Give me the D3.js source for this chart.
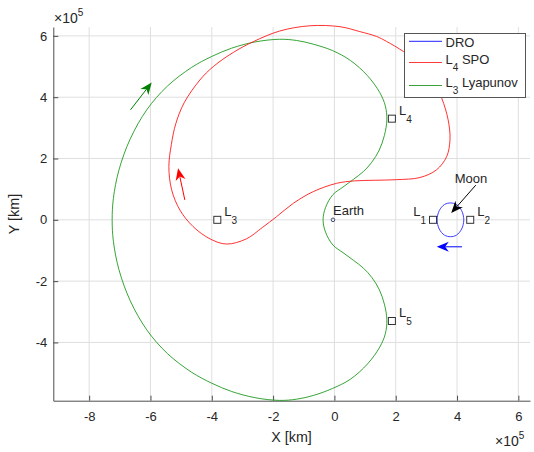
<!DOCTYPE html>
<html>
<head>
<meta charset="utf-8">
<script src="https://cdn.jsdelivr.net/npm/d3@7"></script>
<style>
  body { margin: 0; background: #fff; }
  text { font-family: "Liberation Sans", Arial, sans-serif; fill: #262626; }
</style>
</head>
<body>
<script>
// axis ticks (units of 1e5 km)
const xTicks = [-8, -6, -4, -2, 0, 2, 4, 6];
const yTicks = [-4, -2, 0, 2, 4, 6];

// orbits, [x, y] in 1e5 km
const droPts = [[4.22,0],[4.15,0.30],[3.98,0.50],[3.79,0.55],[3.59,0.50],[3.42,0.30],[3.35,0],
  [3.42,-0.30],[3.59,-0.50],[3.79,-0.55],[3.98,-0.50],[4.15,-0.30]];

const spoPts = [[-0.80,6.33],[0.18,6.30],[0.83,6.14],[1.38,5.98],[1.70,5.82],[2.25,5.49],[2.79,5.05],
  [3.21,4.56],[3.50,3.97],[3.71,3.26],[3.77,2.61],[3.66,2.06],[3.33,1.63],[2.79,1.38],[2.03,1.31],
  [1.30,1.29],[0.65,1.27],[0.07,1.19],[-0.69,0.92],[-1.34,0.54],[-1.89,0.10],[-2.35,-0.25],
  [-2.87,-0.62],[-3.52,-0.79],[-4.06,-0.62],[-4.61,-0.22],[-5.04,0.32],[-5.31,0.98],[-5.40,1.74],
  [-5.32,2.45],[-5.17,3.15],[-4.90,3.82],[-4.39,4.56],[-3.95,5.00],[-3.30,5.46],[-2.65,5.81],[-1.78,6.16]];

const lyapPts = [[-0.37,0],[-0.29,0.40],[-0.05,0.82],[0.28,1.07],[0.62,1.32],[0.95,1.58],[1.22,1.88],
  [1.46,2.27],[1.63,2.75],[1.71,3.26],[1.66,3.72],[1.48,4.15],[1.08,4.70],[0.52,5.20],
  [-0.06,5.52],[-0.69,5.73],[-1.23,5.85],[-1.80,5.89],[-2.60,5.80],[-3.35,5.60],[-4.00,5.33],
  [-4.66,4.97],[-5.45,4.36],[-6.12,3.59],[-6.66,2.64],[-7.03,1.62],[-7.21,0.70],[-7.25,0],
  [-7.21,-0.70],[-7.03,-1.62],[-6.66,-2.64],[-6.12,-3.59],[-5.45,-4.36],[-4.66,-4.97],[-4.00,-5.33],
  [-3.35,-5.60],[-2.60,-5.80],[-1.80,-5.89],[-1.23,-5.85],[-0.69,-5.73],[-0.06,-5.50],[0.52,-5.20],
  [1.08,-4.70],[1.48,-4.15],[1.66,-3.72],[1.71,-3.26],[1.63,-2.75],[1.46,-2.27],[1.22,-1.88],
  [0.95,-1.58],[0.62,-1.32],[0.28,-1.07],[-0.05,-0.82],[-0.29,-0.40]];

const libPoints = [
  {n: "1", x: 3.216, y: 0, side: "left"},
  {n: "2", x: 4.43, y: 0, side: "right"},
  {n: "3", x: -3.82, y: 0, side: "right"},
  {n: "4", x: 1.875, y: 3.30, side: "right"},
  {n: "5", x: 1.875, y: -3.30, side: "right"}
];
const earth = [-0.047, 0];

// direction arrows: [tailX, tailY, tipX, tipY, colour]
const arrows = [
  [-6.65, 3.59, -5.96, 4.48, "#008000"],
  [-4.88, 0.65, -5.10, 1.68, "#ff0000"],
  [4.16, -0.88, 3.34, -0.88, "#0000ff"]
];
const moonArrow = [4.61, 1.13, 3.81, 0.22];

const W = 534, H = 452;
const svg = d3.select("body").append("svg").attr("width", W).attr("height", H);

const x = d3.scaleLinear([-9.17, 6.38], [53.3, 530]);
const y = d3.scaleLinear([-5.9, 6.29], [400.7, 27]);

// grid
svg.append("g").selectAll("line").data(xTicks).join("line")
  .attr("x1", d => x(d)).attr("x2", d => x(d)).attr("y1", y(6.29)).attr("y2", y(-5.9))
  .attr("stroke", "#dfdfdf").attr("stroke-width", 1);
svg.append("g").selectAll("line").data(yTicks).join("line")
  .attr("y1", d => y(d)).attr("y2", d => y(d)).attr("x1", x(-9.17)).attr("x2", x(6.38))
  .attr("stroke", "#dfdfdf").attr("stroke-width", 1);

// axes
const xAxis = svg.append("g").attr("transform", `translate(0,${y(-5.9)})`)
  .call(d3.axisBottom(x).tickValues(xTicks).tickFormat(d => String(d))
    .tickSizeInner(-5).tickSizeOuter(0).tickPadding(11));
const yAxis = svg.append("g").attr("transform", `translate(${x(-9.17)},0)`)
  .call(d3.axisLeft(y).tickValues(yTicks).tickFormat(d => String(d))
    .tickSizeInner(-5).tickSizeOuter(0).tickPadding(6));
[xAxis, yAxis].forEach(a => {
  a.selectAll("path, line").attr("stroke", "#4d4d4d");
  a.selectAll("text").attr("font-size", 13).attr("fill", "#262626")
    .attr("font-family", "Liberation Sans, Arial, sans-serif");
});

svg.append("text").attr("x", 291.6).attr("y", 442).attr("text-anchor", "middle")
  .attr("font-size", 14.3).text("X [km]");
svg.append("text").attr("transform", "translate(19,214) rotate(-90)").attr("text-anchor", "middle")
  .attr("font-size", 14.3).text("Y [km]");

function expo(tx, ty) {
  const t = svg.append("text").attr("x", tx).attr("y", ty).attr("font-size", 14);
  t.append("tspan").text("\u00d710");
  t.append("tspan").attr("dy", -7).attr("font-size", 10).text("5");
}
expo(54, 23);
expo(495, 446);

// orbits
const line = d3.line().x(d => x(d[0])).y(d => y(d[1])).curve(d3.curveCatmullRomClosed);
svg.append("path").attr("d", line(lyapPts)).attr("fill", "none").attr("stroke", "#1f9a1f").attr("stroke-width", 0.9);
svg.append("path").attr("d", line(spoPts)).attr("fill", "none").attr("stroke", "#ff1a1a").attr("stroke-width", 0.9);
svg.append("path").attr("d", line(droPts)).attr("fill", "none").attr("stroke", "#2a2aff").attr("stroke-width", 0.9);

// arrows
function arrow(x0, y0, x1, y1, col, len, wid) {
  const px0 = x(x0), py0 = y(y0), px1 = x(x1), py1 = y(y1);
  const dx = px1 - px0, dy = py1 - py0, L = Math.hypot(dx, dy);
  const ux = dx / L, uy = dy / L, nx = -uy, ny = ux;
  const bx = px1 - ux * len, by = py1 - uy * len;
  const ix = px1 - ux * len * 0.7, iy = py1 - uy * len * 0.7;
  svg.append("line").attr("x1", px0).attr("y1", py0).attr("x2", ix).attr("y2", iy)
    .attr("stroke", col).attr("stroke-width", 1);
  svg.append("path").attr("fill", col).attr("stroke", "none")
    .attr("d", `M${px1},${py1}L${bx + nx * wid / 2},${by + ny * wid / 2}L${ix},${iy}L${bx - nx * wid / 2},${by - ny * wid / 2}Z`);
}
arrows.forEach(a => arrow(a[0], a[1], a[2], a[3], a[4], 12, 10));
arrow(moonArrow[0], moonArrow[1], moonArrow[2], moonArrow[3], "#000", 12, 10);

// markers
svg.append("circle").attr("cx", x(earth[0])).attr("cy", y(earth[1])).attr("r", 1.8)
  .attr("fill", "none").attr("stroke", "#3c4a70").attr("stroke-width", 1);
svg.append("text").attr("x", 333).attr("y", 214.5).attr("font-size", 13).text("Earth");
svg.append("text").attr("x", 471).attr("y", 182.5).attr("text-anchor", "middle").attr("font-size", 13).text("Moon");

libPoints.forEach(p => {
  const cx = x(p.x), cy = y(p.y);
  svg.append("rect").attr("x", cx - 3.5).attr("y", cy - 3.5).attr("width", 7).attr("height", 7)
    .attr("fill", "#fff").attr("stroke", "#333").attr("stroke-width", 1);
  const t = svg.append("text").attr("font-size", 13).attr("y", cy - 3.5);
  if (p.side === "left") t.attr("x", cx - 7).attr("text-anchor", "end");
  else t.attr("x", cx + 7);
  t.append("tspan").text("L");
  t.append("tspan").attr("dy", 8).attr("font-size", 10).text(p.n);
});

// legend
const lg = svg.append("g");
lg.append("rect").attr("x", 404.5).attr("y", 33.5).attr("width", 121).attr("height", 64)
  .attr("fill", "#fff").attr("stroke", "#555").attr("stroke-width", 1);
const entries = [
  {c: "#4d4dff", ly: 41.3, ty: 46.5, main: "DRO"},
  {c: "#ff3a3a", ly: 62.5, ty: 64.3, main: "L", sub: "4", rest: " SPO"},
  {c: "#3aa03a", ly: 85.5, ty: 87.3, main: "L", sub: "3", rest: " Lyapunov"}
];
entries.forEach(e => {
  lg.append("path").attr("d", `M409,${e.ly}H442`).attr("fill", "none")
    .attr("stroke", e.c).attr("stroke-width", 1.2);
  const t = lg.append("text").attr("x", 445.5).attr("y", e.ty).attr("font-size", 13);
  t.append("tspan").text(e.main);
  if (e.sub) {
    t.append("tspan").attr("dy", 7).attr("font-size", 10).text(e.sub);
    t.append("tspan").attr("dy", -7).text(e.rest);
  }
});
</script>
</body>
</html>
